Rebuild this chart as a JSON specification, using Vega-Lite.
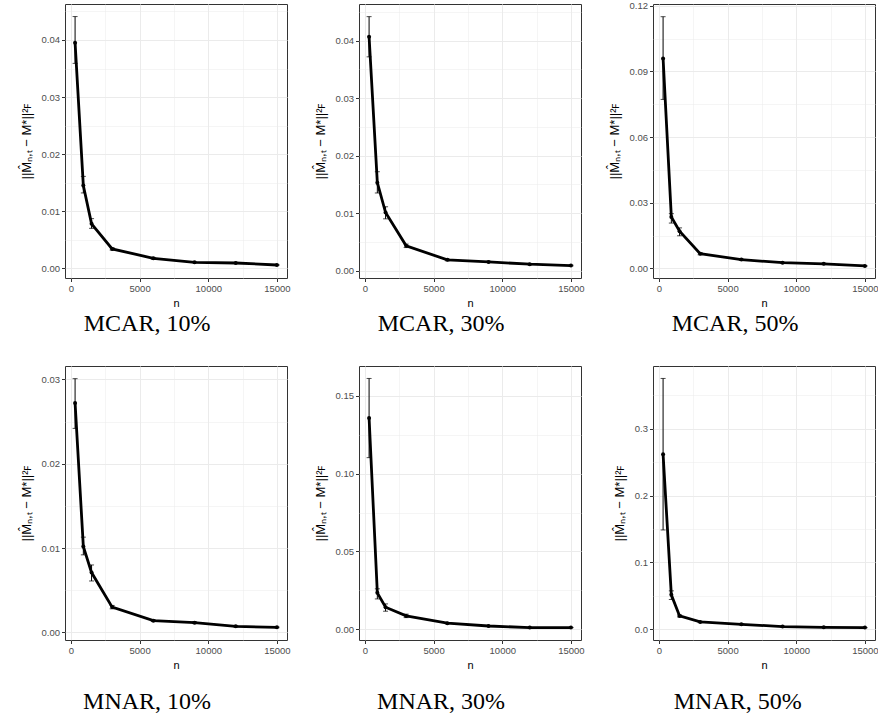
{
  "$schema": "https://vega.github.io/schema/vega-lite/v6.json",
  "background": "white",
  "padding": {"left": 19, "top": 0, "right": 0, "bottom": 0},
  "config": {
    "view": {"stroke": "#333333", "strokeWidth": 1},
    "axis": {
      "domain": false,
      "tickColor": "#333333",
      "tickSize": 3.5,
      "tickWidth": 1,
      "labelFont": "Liberation Sans",
      "labelFontSize": 9.5,
      "labelColor": "#4d4d4d",
      "labelPadding": 2,
      "titleFont": "Liberation Sans",
      "titleFontSize": 11,
      "titleFontWeight": "normal",
      "titleColor": "black",
      "titlePadding": 4,
      "gridColor": "#ebebeb"
    },
    "axisY": {"titleFontSize": 13, "titlePadding": 8},
    "title": {
      "font": "Liberation Serif",
      "fontSize": 24,
      "fontWeight": "normal",
      "color": "black",
      "orient": "bottom",
      "anchor": "middle",
      "frame": "bounds"
    }
  },
  "data": {
    "values": [
      {"panel": "MCAR, 10%", "n": 300, "value": 0.0395, "lo": 0.0359, "hi": 0.0441},
      {"panel": "MCAR, 10%", "n": 900, "value": 0.0145, "lo": 0.0132, "hi": 0.0161},
      {"panel": "MCAR, 10%", "n": 1500, "value": 0.0078, "lo": 0.0070, "hi": 0.0087},
      {"panel": "MCAR, 10%", "n": 3000, "value": 0.0034, "lo": 0.0032, "hi": 0.0036},
      {"panel": "MCAR, 10%", "n": 6000, "value": 0.00175, "lo": 0.0016, "hi": 0.0019},
      {"panel": "MCAR, 10%", "n": 9000, "value": 0.00105, "lo": 0.0010, "hi": 0.0011},
      {"panel": "MCAR, 10%", "n": 12000, "value": 0.00093, "lo": 0.00088, "hi": 0.00098},
      {"panel": "MCAR, 10%", "n": 15000, "value": 0.00058, "lo": 0.00054, "hi": 0.00062},

      {"panel": "MCAR, 30%", "n": 300, "value": 0.0407, "lo": 0.0372, "hi": 0.0442},
      {"panel": "MCAR, 30%", "n": 900, "value": 0.0153, "lo": 0.0135, "hi": 0.0172},
      {"panel": "MCAR, 30%", "n": 1500, "value": 0.0101, "lo": 0.0090, "hi": 0.0111},
      {"panel": "MCAR, 30%", "n": 3000, "value": 0.0043, "lo": 0.0040, "hi": 0.0046},
      {"panel": "MCAR, 30%", "n": 6000, "value": 0.00186, "lo": 0.0017, "hi": 0.0020},
      {"panel": "MCAR, 30%", "n": 9000, "value": 0.0015, "lo": 0.0014, "hi": 0.0016},
      {"panel": "MCAR, 30%", "n": 12000, "value": 0.0011, "lo": 0.0010, "hi": 0.0012},
      {"panel": "MCAR, 30%", "n": 15000, "value": 0.00087, "lo": 0.0008, "hi": 0.00094},

      {"panel": "MCAR, 50%", "n": 300, "value": 0.0959, "lo": 0.0772, "hi": 0.1150},
      {"panel": "MCAR, 50%", "n": 900, "value": 0.0235, "lo": 0.0207, "hi": 0.0250},
      {"panel": "MCAR, 50%", "n": 1500, "value": 0.0170, "lo": 0.0149, "hi": 0.0185},
      {"panel": "MCAR, 50%", "n": 3000, "value": 0.0067, "lo": 0.0062, "hi": 0.0072},
      {"panel": "MCAR, 50%", "n": 6000, "value": 0.0040, "lo": 0.0037, "hi": 0.0043},
      {"panel": "MCAR, 50%", "n": 9000, "value": 0.0026, "lo": 0.0024, "hi": 0.0028},
      {"panel": "MCAR, 50%", "n": 12000, "value": 0.0021, "lo": 0.0019, "hi": 0.0023},
      {"panel": "MCAR, 50%", "n": 15000, "value": 0.0011, "lo": 0.0009, "hi": 0.0013},

      {"panel": "MNAR, 10%", "n": 300, "value": 0.0272, "lo": 0.0242, "hi": 0.0301},
      {"panel": "MNAR, 10%", "n": 900, "value": 0.0102, "lo": 0.0092, "hi": 0.0113},
      {"panel": "MNAR, 10%", "n": 1500, "value": 0.0071, "lo": 0.0061, "hi": 0.0080},
      {"panel": "MNAR, 10%", "n": 3000, "value": 0.0030, "lo": 0.0028, "hi": 0.0032},
      {"panel": "MNAR, 10%", "n": 6000, "value": 0.00139, "lo": 0.0013, "hi": 0.0015},
      {"panel": "MNAR, 10%", "n": 9000, "value": 0.00115, "lo": 0.00105, "hi": 0.00125},
      {"panel": "MNAR, 10%", "n": 12000, "value": 0.00072, "lo": 0.00065, "hi": 0.0008},
      {"panel": "MNAR, 10%", "n": 15000, "value": 0.0006, "lo": 0.00055, "hi": 0.00065},

      {"panel": "MNAR, 30%", "n": 300, "value": 0.1358, "lo": 0.1103, "hi": 0.1612},
      {"panel": "MNAR, 30%", "n": 900, "value": 0.0234, "lo": 0.0195, "hi": 0.0260},
      {"panel": "MNAR, 30%", "n": 1500, "value": 0.0142, "lo": 0.0116, "hi": 0.0163},
      {"panel": "MNAR, 30%", "n": 3000, "value": 0.0086, "lo": 0.0075, "hi": 0.0097},
      {"panel": "MNAR, 30%", "n": 6000, "value": 0.0039, "lo": 0.0035, "hi": 0.0043},
      {"panel": "MNAR, 30%", "n": 9000, "value": 0.0021, "lo": 0.0019, "hi": 0.0023},
      {"panel": "MNAR, 30%", "n": 12000, "value": 0.0011, "lo": 0.0010, "hi": 0.0012},
      {"panel": "MNAR, 30%", "n": 15000, "value": 0.0011, "lo": 0.0010, "hi": 0.0012},

      {"panel": "MNAR, 50%", "n": 300, "value": 0.2615, "lo": 0.1485, "hi": 0.3750},
      {"panel": "MNAR, 50%", "n": 900, "value": 0.0515, "lo": 0.0445, "hi": 0.0575},
      {"panel": "MNAR, 50%", "n": 1500, "value": 0.0200, "lo": 0.0185, "hi": 0.0215},
      {"panel": "MNAR, 50%", "n": 3000, "value": 0.0110, "lo": 0.0100, "hi": 0.0120},
      {"panel": "MNAR, 50%", "n": 6000, "value": 0.0075, "lo": 0.0068, "hi": 0.0082},
      {"panel": "MNAR, 50%", "n": 9000, "value": 0.0040, "lo": 0.0036, "hi": 0.0044},
      {"panel": "MNAR, 50%", "n": 12000, "value": 0.0030, "lo": 0.0027, "hi": 0.0033},
      {"panel": "MNAR, 50%", "n": 15000, "value": 0.0025, "lo": 0.0022, "hi": 0.0028}
    ]
  },
  "columns": 3,
  "bounds": "flush",
  "spacing": {"row": 88, "column": 72},
  "concat": [
    {
      "width": 222, "height": 274,
      "title": {"text": "MCAR, 10%", "offset": 4, "dx": -8},
      "transform": [{"filter": "datum.panel == 'MCAR, 10%'"}],
      "encoding": {
        "x": {"field": "n", "type": "quantitative", "title": "n",
          "scale": {"domain": [-435, 15735], "nice": false, "zero": false},
          "axis": {"values": [0, 2500, 5000, 7500, 10000, 12500, 15000],
            "labelExpr": "datum.value % 5000 != 0 ? '' : format(datum.value, 'd')",
            "gridWidth": {"condition": {"test": "datum.value % 5000 != 0", "value": 0.5}, "value": 1},
            "tickOpacity": {"condition": {"test": "datum.value % 5000 != 0", "value": 0}, "value": 1}}},
        "y": {"field": "value", "type": "quantitative", "title": "||M̂ₙ,ₜ − M*||²ꜰ",
          "scale": {"domain": [-0.0017, 0.0463], "nice": false, "zero": false},
          "axis": {"values": [0, 0.005, 0.01, 0.015, 0.02, 0.025, 0.03, 0.035, 0.04, 0.045],
            "labelExpr": "abs(datum.value/0.01 - round(datum.value/0.01)) > 0.25 ? '' : format(datum.value, '.2f')",
            "gridWidth": {"condition": {"test": "abs(datum.value/0.01 - round(datum.value/0.01)) > 0.25", "value": 0.5}, "value": 1},
            "tickOpacity": {"condition": {"test": "abs(datum.value/0.01 - round(datum.value/0.01)) > 0.25", "value": 0}, "value": 1}}}
      },
      "layer": [
        {"mark": {"type": "errorbar", "ticks": true, "size": 5, "thickness": 1, "color": "black"},
         "encoding": {"y": {"field": "lo", "type": "quantitative", "title": "||M̂ₙ,ₜ − M*||²ꜰ"}, "y2": {"field": "hi"}}},
        {"mark": {"type": "line", "color": "black", "strokeWidth": 2.8}},
        {"mark": {"type": "point", "filled": true, "color": "black", "size": 16, "opacity": 1}}
      ]
    },
    {
      "width": 222, "height": 274,
      "title": {"text": "MCAR, 30%", "offset": 4, "dx": -8},
      "transform": [{"filter": "datum.panel == 'MCAR, 30%'"}],
      "encoding": {
        "x": {"field": "n", "type": "quantitative", "title": "n",
          "scale": {"domain": [-435, 15735], "nice": false, "zero": false},
          "axis": {"values": [0, 2500, 5000, 7500, 10000, 12500, 15000],
            "labelExpr": "datum.value % 5000 != 0 ? '' : format(datum.value, 'd')",
            "gridWidth": {"condition": {"test": "datum.value % 5000 != 0", "value": 0.5}, "value": 1},
            "tickOpacity": {"condition": {"test": "datum.value % 5000 != 0", "value": 0}, "value": 1}}},
        "y": {"field": "value", "type": "quantitative", "title": "||M̂ₙ,ₜ − M*||²ꜰ",
          "scale": {"domain": [-0.0013, 0.0464], "nice": false, "zero": false},
          "axis": {"values": [0, 0.005, 0.01, 0.015, 0.02, 0.025, 0.03, 0.035, 0.04, 0.045],
            "labelExpr": "abs(datum.value/0.01 - round(datum.value/0.01)) > 0.25 ? '' : format(datum.value, '.2f')",
            "gridWidth": {"condition": {"test": "abs(datum.value/0.01 - round(datum.value/0.01)) > 0.25", "value": 0.5}, "value": 1},
            "tickOpacity": {"condition": {"test": "abs(datum.value/0.01 - round(datum.value/0.01)) > 0.25", "value": 0}, "value": 1}}}
      },
      "layer": [
        {"mark": {"type": "errorbar", "ticks": true, "size": 5, "thickness": 1, "color": "black"},
         "encoding": {"y": {"field": "lo", "type": "quantitative", "title": "||M̂ₙ,ₜ − M*||²ꜰ"}, "y2": {"field": "hi"}}},
        {"mark": {"type": "line", "color": "black", "strokeWidth": 2.8}},
        {"mark": {"type": "point", "filled": true, "color": "black", "size": 16, "opacity": 1}}
      ]
    },
    {
      "width": 222, "height": 274,
      "title": {"text": "MCAR, 50%", "offset": 4, "dx": -8},
      "transform": [{"filter": "datum.panel == 'MCAR, 50%'"}],
      "encoding": {
        "x": {"field": "n", "type": "quantitative", "title": "n",
          "scale": {"domain": [-435, 15735], "nice": false, "zero": false},
          "axis": {"values": [0, 2500, 5000, 7500, 10000, 12500, 15000],
            "labelExpr": "datum.value % 5000 != 0 ? '' : format(datum.value, 'd')",
            "gridWidth": {"condition": {"test": "datum.value % 5000 != 0", "value": 0.5}, "value": 1},
            "tickOpacity": {"condition": {"test": "datum.value % 5000 != 0", "value": 0}, "value": 1}}},
        "y": {"field": "value", "type": "quantitative", "title": "||M̂ₙ,ₜ − M*||²ꜰ",
          "scale": {"domain": [-0.0044, 0.1208], "nice": false, "zero": false},
          "axis": {"values": [0, 0.015, 0.03, 0.045, 0.06, 0.075, 0.09, 0.105, 0.12],
            "labelExpr": "abs(datum.value/0.03 - round(datum.value/0.03)) > 0.25 ? '' : format(datum.value, '.2f')",
            "gridWidth": {"condition": {"test": "abs(datum.value/0.03 - round(datum.value/0.03)) > 0.25", "value": 0.5}, "value": 1},
            "tickOpacity": {"condition": {"test": "abs(datum.value/0.03 - round(datum.value/0.03)) > 0.25", "value": 0}, "value": 1}}}
      },
      "layer": [
        {"mark": {"type": "errorbar", "ticks": true, "size": 5, "thickness": 1, "color": "black"},
         "encoding": {"y": {"field": "lo", "type": "quantitative", "title": "||M̂ₙ,ₜ − M*||²ꜰ"}, "y2": {"field": "hi"}}},
        {"mark": {"type": "line", "color": "black", "strokeWidth": 2.8}},
        {"mark": {"type": "point", "filled": true, "color": "black", "size": 16, "opacity": 1}}
      ]
    },
    {
      "width": 222, "height": 274,
      "title": {"text": "MNAR, 10%", "offset": 20, "dx": -8},
      "transform": [{"filter": "datum.panel == 'MNAR, 10%'"}],
      "encoding": {
        "x": {"field": "n", "type": "quantitative", "title": "n",
          "scale": {"domain": [-435, 15735], "nice": false, "zero": false},
          "axis": {"values": [0, 2500, 5000, 7500, 10000, 12500, 15000],
            "labelExpr": "datum.value % 5000 != 0 ? '' : format(datum.value, 'd')",
            "gridWidth": {"condition": {"test": "datum.value % 5000 != 0", "value": 0.5}, "value": 1},
            "tickOpacity": {"condition": {"test": "datum.value % 5000 != 0", "value": 0}, "value": 1}}},
        "y": {"field": "value", "type": "quantitative", "title": "||M̂ₙ,ₜ − M*||²ꜰ",
          "scale": {"domain": [-0.0009, 0.0316], "nice": false, "zero": false},
          "axis": {"values": [0, 0.005, 0.01, 0.015, 0.02, 0.025, 0.03],
            "labelExpr": "abs(datum.value/0.01 - round(datum.value/0.01)) > 0.25 ? '' : format(datum.value, '.2f')",
            "gridWidth": {"condition": {"test": "abs(datum.value/0.01 - round(datum.value/0.01)) > 0.25", "value": 0.5}, "value": 1},
            "tickOpacity": {"condition": {"test": "abs(datum.value/0.01 - round(datum.value/0.01)) > 0.25", "value": 0}, "value": 1}}}
      },
      "layer": [
        {"mark": {"type": "errorbar", "ticks": true, "size": 5, "thickness": 1, "color": "black"},
         "encoding": {"y": {"field": "lo", "type": "quantitative", "title": "||M̂ₙ,ₜ − M*||²ꜰ"}, "y2": {"field": "hi"}}},
        {"mark": {"type": "line", "color": "black", "strokeWidth": 2.8}},
        {"mark": {"type": "point", "filled": true, "color": "black", "size": 16, "opacity": 1}}
      ]
    },
    {
      "width": 222, "height": 274,
      "title": {"text": "MNAR, 30%", "offset": 20, "dx": -8},
      "transform": [{"filter": "datum.panel == 'MNAR, 30%'"}],
      "encoding": {
        "x": {"field": "n", "type": "quantitative", "title": "n",
          "scale": {"domain": [-435, 15735], "nice": false, "zero": false},
          "axis": {"values": [0, 2500, 5000, 7500, 10000, 12500, 15000],
            "labelExpr": "datum.value % 5000 != 0 ? '' : format(datum.value, 'd')",
            "gridWidth": {"condition": {"test": "datum.value % 5000 != 0", "value": 0.5}, "value": 1},
            "tickOpacity": {"condition": {"test": "datum.value % 5000 != 0", "value": 0}, "value": 1}}},
        "y": {"field": "value", "type": "quantitative", "title": "||M̂ₙ,ₜ − M*||²ꜰ",
          "scale": {"domain": [-0.0069, 0.1692], "nice": false, "zero": false},
          "axis": {"values": [0, 0.025, 0.05, 0.075, 0.1, 0.125, 0.15],
            "labelExpr": "abs(datum.value/0.05 - round(datum.value/0.05)) > 0.25 ? '' : format(datum.value, '.2f')",
            "gridWidth": {"condition": {"test": "abs(datum.value/0.05 - round(datum.value/0.05)) > 0.25", "value": 0.5}, "value": 1},
            "tickOpacity": {"condition": {"test": "abs(datum.value/0.05 - round(datum.value/0.05)) > 0.25", "value": 0}, "value": 1}}}
      },
      "layer": [
        {"mark": {"type": "errorbar", "ticks": true, "size": 5, "thickness": 1, "color": "black"},
         "encoding": {"y": {"field": "lo", "type": "quantitative", "title": "||M̂ₙ,ₜ − M*||²ꜰ"}, "y2": {"field": "hi"}}},
        {"mark": {"type": "line", "color": "black", "strokeWidth": 2.8}},
        {"mark": {"type": "point", "filled": true, "color": "black", "size": 16, "opacity": 1}}
      ]
    },
    {
      "width": 222, "height": 274,
      "title": {"text": "MNAR, 50%", "offset": 20, "dx": -8},
      "transform": [{"filter": "datum.panel == 'MNAR, 50%'"}],
      "encoding": {
        "x": {"field": "n", "type": "quantitative", "title": "n",
          "scale": {"domain": [-435, 15735], "nice": false, "zero": false},
          "axis": {"values": [0, 2500, 5000, 7500, 10000, 12500, 15000],
            "labelExpr": "datum.value % 5000 != 0 ? '' : format(datum.value, 'd')",
            "gridWidth": {"condition": {"test": "datum.value % 5000 != 0", "value": 0.5}, "value": 1},
            "tickOpacity": {"condition": {"test": "datum.value % 5000 != 0", "value": 0}, "value": 1}}},
        "y": {"field": "value", "type": "quantitative", "title": "||M̂ₙ,ₜ − M*||²ꜰ",
          "scale": {"domain": [-0.016, 0.3936], "nice": false, "zero": false},
          "axis": {"values": [0, 0.05, 0.1, 0.15, 0.2, 0.25, 0.3, 0.35],
            "labelExpr": "abs(datum.value/0.1 - round(datum.value/0.1)) > 0.25 ? '' : format(datum.value, '.1f')",
            "gridWidth": {"condition": {"test": "abs(datum.value/0.1 - round(datum.value/0.1)) > 0.25", "value": 0.5}, "value": 1},
            "tickOpacity": {"condition": {"test": "abs(datum.value/0.1 - round(datum.value/0.1)) > 0.25", "value": 0}, "value": 1}}}
      },
      "layer": [
        {"mark": {"type": "errorbar", "ticks": true, "size": 5, "thickness": 1, "color": "black"},
         "encoding": {"y": {"field": "lo", "type": "quantitative", "title": "||M̂ₙ,ₜ − M*||²ꜰ"}, "y2": {"field": "hi"}}},
        {"mark": {"type": "line", "color": "black", "strokeWidth": 2.8}},
        {"mark": {"type": "point", "filled": true, "color": "black", "size": 16, "opacity": 1}}
      ]
    }
  ]
}
